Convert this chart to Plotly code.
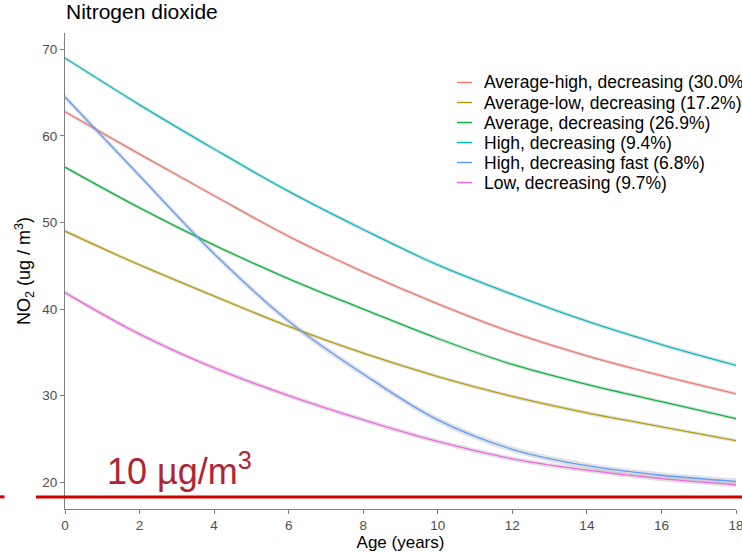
import plotly.graph_objects as go

# Age grid (years) and modelled NO2 trajectories (ug/m3) per latent class
ages = [0, 2, 4, 6, 8, 10, 12, 14, 16, 18]

avg_high = [62.8, 57.9, 53.1, 48.4, 44.3, 40.6, 37.3, 34.6, 32.3, 30.2]
avg_low = [49.0, 45.1, 41.5, 38.0, 34.9, 32.2, 29.9, 28.0, 26.4, 24.8]
average = [56.4, 51.7, 47.4, 43.5, 40.0, 36.6, 33.6, 31.3, 29.3, 27.35]
high = [69.0, 63.6, 58.5, 53.6, 49.2, 45.1, 41.7, 38.6, 35.9, 33.5]
high_fast = [64.5, 55.4, 46.4, 38.6, 32.5, 27.2, 23.8, 21.9, 20.8, 20.1]
low = [41.9, 37.1, 33.2, 30.0, 27.2, 24.7, 22.7, 21.4, 20.4, 19.7]

class_names = [
    "Average-high, decreasing (30.0%)",
    "Average-low, decreasing (17.2%)",
    "Average, decreasing (26.9%)",
    "High, decreasing (9.4%)",
    "High, decreasing fast (6.8%)",
    "Low, decreasing (9.7%)",
]
series = [avg_high, avg_low, average, high, high_fast, low]
# half-width of the confidence band around each trajectory
band = [0.22, 0.22, 0.22, 0.25, 0.35, 0.28]
colors = ["#F8766D", "#B79F00", "#00BA38", "#00BFC4", "#619CFF", "#F564E3"]

guideline_label = "10 µg/m<sup>3</sup>"
guideline_y = 18.3

x_ticks = [0, 2, 4, 6, 8, 10, 12, 14, 16, 18]
y_ticks = [20, 30, 40, 50, 60, 70]

W, H = 742, 552
L, R, T, B = 65, 6, 33, 43
pw, ph = W - L - R, H - T - B


def px_x(p):
    return (p - L) / pw


def px_y(p):
    return (H - B - p) / ph


fig = go.Figure()

# confidence ribbons (lower edge, then upper edge filled down to it)
for vals, hw in zip(series, band):
    upper = [v + hw for v in vals]
    lower = [v - hw for v in vals]
    fig.add_trace(go.Scatter(
        x=ages, y=lower, mode="lines",
        line=dict(width=0, shape="spline"),
        hoverinfo="skip", showlegend=False))
    fig.add_trace(go.Scatter(
        x=ages, y=upper, mode="lines", fill="tonexty",
        fillcolor="rgba(150,150,150,0.28)",
        line=dict(width=0, shape="spline"),
        hoverinfo="skip", showlegend=False))

for name, vals, col in zip(class_names, series, colors):
    fig.add_trace(go.Scatter(
        x=ages, y=vals, mode="lines", name=name,
        line=dict(color=col, width=1.3, shape="spline"),
        showlegend=False))

font_family = "Liberation Sans, Arial, sans-serif"

# legend drawn as keys + labels
for i, (name, col) in enumerate(zip(class_names, colors)):
    yc = 82.5 + 20 * i
    fig.add_shape(type="line", xref="paper", yref="paper",
                  x0=px_x(457), x1=px_x(472), y0=px_y(yc), y1=px_y(yc),
                  line=dict(color=col, width=1.5))
    fig.add_annotation(xref="paper", yref="paper", x=px_x(482), y=px_y(yc),
                       xanchor="left", yanchor="middle", showarrow=False,
                       text=name, font=dict(size=17.5, color="#000000",
                                            family=font_family))

# threshold guideline
fig.add_shape(type="line", xref="paper", yref="y",
              x0=px_x(36), x1=px_x(742), y0=guideline_y, y1=guideline_y,
              line=dict(color="#CC0000", width=3), layer="above")
fig.add_shape(type="line", xref="paper", yref="y",
              x0=px_x(0), x1=px_x(4.5), y0=guideline_y, y1=guideline_y,
              line=dict(color="#CC0000", width=3), layer="above")
fig.add_annotation(xref="paper", yref="paper", x=px_x(105), y=px_y(494),
                   xanchor="left", yanchor="bottom", showarrow=False,
                   text=guideline_label,
                   font=dict(size=36, color="#B02433", family=font_family))

axis_common = dict(
    showline=True, linecolor="#7F7F7F", linewidth=1.2,
    ticks="outside", ticklen=4, tickcolor="#7F7F7F", tickwidth=1,
    showgrid=False, zeroline=False, ticklabeloverflow="allow",
    automargin=False,
    tickfont=dict(size=13.5, color="#4D4D4D", family=font_family),
)

fig.update_layout(
    width=W, height=H,
    margin=dict(l=L, r=R, t=T, b=B, autoexpand=False),
    paper_bgcolor="white", plot_bgcolor="white",
    title=dict(text="Nitrogen dioxide", x=66 / W, xref="container",
               xanchor="left", y=1 - 4 / H, yanchor="top",
               font=dict(size=21, color="#000000", family=font_family)),
    xaxis=dict(range=[0, 18], tickvals=x_ticks,
               title=dict(text="Age (years)", standoff=2,
                          font=dict(size=17, color="#000000", family=font_family)),
               **axis_common),
    yaxis=dict(range=[16.9, 71.9], tickvals=y_ticks,
               title=dict(text="NO<sub>2</sub> (ug / m<sup>3</sup>)", standoff=6,
                          font=dict(size=18, color="#000000", family=font_family)),
               **axis_common),
    showlegend=False,
)

fig.write_html("out.html")
